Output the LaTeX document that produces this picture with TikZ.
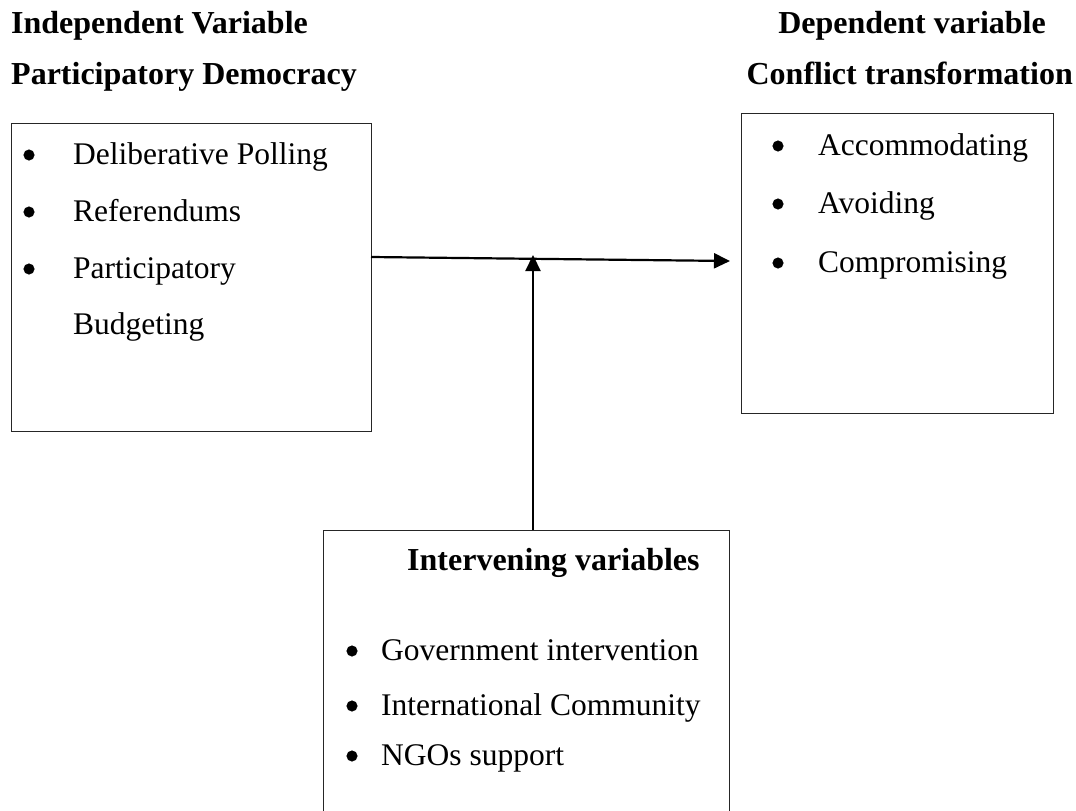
\documentclass[tikz,border=0pt]{standalone}
\usepackage{fontspec}
\setmainfont{Liberation Serif}
\usetikzlibrary{arrows.meta}
\tikzset{
  box/.style={draw=black!85, line width=1.2pt, anchor=north west, inner sep=0pt},
  txt/.style={anchor=base west, inner sep=0pt, font=\fontsize{31.5}{36}\selectfont},
  hdr/.style={anchor=base west, inner sep=0pt, font=\fontsize{32}{36}\selectfont\bfseries},
  bul/.style={circle, draw=black, fill=black, line width=0.5pt, inner sep=0pt, minimum size=10.5pt},
  conn/.style={line width=2.2pt, -{Triangle[length=16pt,width=15pt]}}
}
\begin{document}
\begin{tikzpicture}[x=1pt,y=-1pt]
\useasboundingbox (0,0) rectangle (1076,811);
\clip (0,0) rectangle (1076,811);
\fill[white] (0,0) rectangle (1076,811);
% headers
\node[hdr] (h1) at (11,33) {Independent Variable};
\node[hdr] (h2) at (11,84) {Participatory Democracy};
\node[hdr,anchor=base east] (h3) at (1046,33) {Dependent variable};
\node[hdr,anchor=base east] (h4) at (1073,84) {Conflict transformation};
% boxes
\node[box, minimum width=360pt, minimum height=308pt] (L) at (11,123) {};
\node[box, minimum width=312pt, minimum height=300pt] (R) at (741,113) {};
\node[box, minimum width=406pt, minimum height=320pt] (B) at (323,530) {};
% left box items
\node[bul] (lb1) at (29,155) {};
\node[txt] (l1) at (73,164) {Deliberative Polling};
\node[bul] (lb2) at (29,212) {};
\node[txt] (l2) at (73,221) {Referendums};
\node[bul] (lb3) at (29,269) {};
\node[txt] (l3) at (73,278) {Participatory};
\node[txt] (l4) at (73,334) {Budgeting};
% right box items
\node[bul] (rb1) at (778,146) {};
\node[txt] (r1) at (818,155) {Accommodating};
\node[bul] (rb2) at (778,204) {};
\node[txt] (r2) at (818,213) {Avoiding};
\node[bul] (rb3) at (778,263) {};
\node[txt] (r3) at (818,272) {Compromising};
% bottom box items
\node[hdr] (bt) at (407,570) {Intervening variables};
\node[bul] (bb1) at (352,651) {};
\node[txt] (b1) at (381,660) {Government intervention};
\node[bul] (bb2) at (352,706) {};
\node[txt] (b2) at (381,715) {International Community};
\node[bul] (bb3) at (352,756) {};
\node[txt] (b3) at (381,765) {NGOs support};
% connectors
\coordinate (hs) at (371,257);
\coordinate (he) at (730,261);
\coordinate (vs) at (533,530);
\coordinate (ve) at (533,255);
\draw[conn] (hs) -- (he);
\draw[conn] (vs) -- (ve);
\end{tikzpicture}
\end{document}
